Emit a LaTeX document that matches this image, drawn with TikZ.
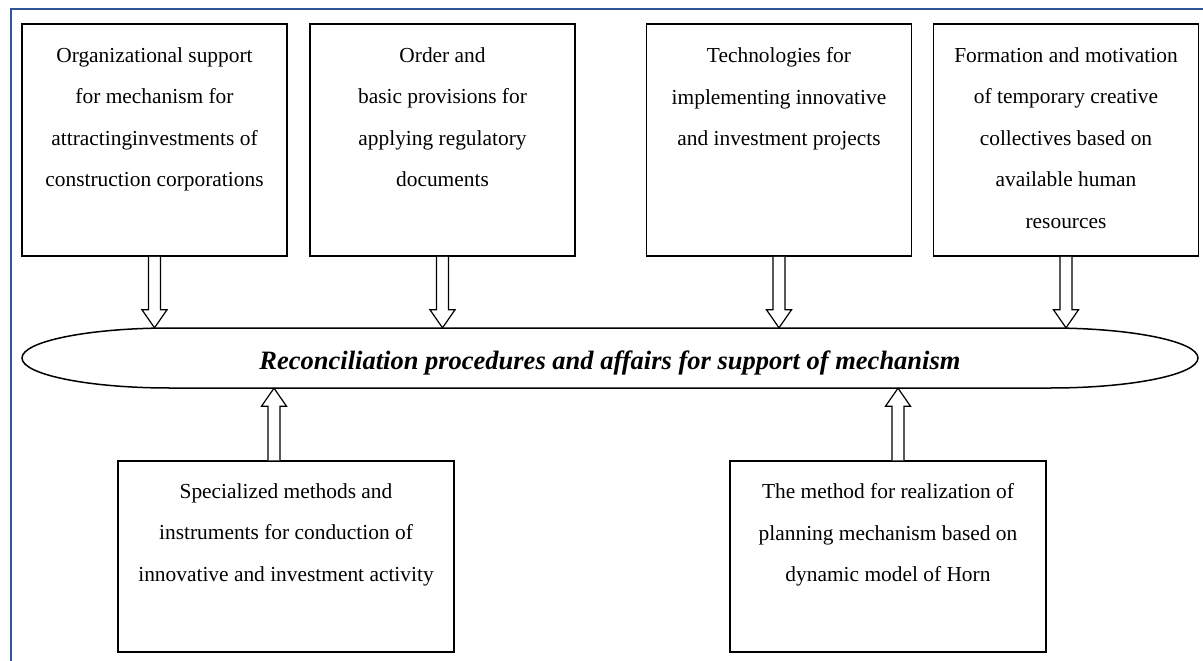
\documentclass[tikz,border=0pt]{standalone}
\usepackage{fontspec}
\setmainfont{Liberation Serif}
\usetikzlibrary{calc}
\definecolor{frameblue}{RGB}{47,85,151}
\newcommand\blkdown[2]{%
  \draw[blockarr] let \p1=(#1), \p2=(#2) in
    (\x1-6pt,\y1) -- (\x1-6pt,\y2+18pt) -- (\x1-12.5pt,\y2+18pt) -- (\x1,\y2)
    -- (\x1+12.5pt,\y2+18pt) -- (\x1+6pt,\y2+18pt) -- (\x1+6pt,\y1);}
\newcommand\blkup[2]{%
  \draw[blockarr] let \p1=(#1), \p2=(#2) in
    (\x1-6pt,\y1) -- (\x1-6pt,\y2-18pt) -- (\x1-12.5pt,\y2-18pt) -- (\x1,\y2)
    -- (\x1+12.5pt,\y2-18pt) -- (\x1+6pt,\y2-18pt) -- (\x1+6pt,\y1);}
\begin{document}
\begin{tikzpicture}[x=1pt,y=-1pt,
  box/.style={draw, line width=1.5pt, minimum width=265pt, minimum height=232pt, inner sep=0},
  txt/.style={font=\fontsize{21.4}{41.5}\selectfont, align=center, anchor=north, inner sep=0,
              execute at begin node=\rule{0pt}{16pt}},
  blockarr/.style={draw, line width=1.2pt, fill=white, line join=miter}]
\useasboundingbox (0,0) rectangle (1203,661);
\begin{scope}
  \clip (0,0) rectangle (1203,661);
  \draw[frameblue, line width=2pt] (11,9) rectangle (1240,700);
\end{scope}

% top boxes
\node[box] (b1) at (154.5,140) {};
\node[box] (b2) at (442.5,140) {};
\node[box] (b3) at (779,140) {};
\node[box] (b4) at (1066,140) {};
\node[txt] (t1) at ($(b1.north)+(0,24)$) {Organizational support\\for mechanism for\\attractinginvestments of\\construction corporations};
\node[txt] (t2) at ($(b2.north)+(0,24)$) {Order and\\basic provisions for\\applying regulatory\\documents};
\node[txt] (t3) at ($(b3.north)+(0,24)$) {Technologies for\\implementing innovative\\and investment projects};
\node[txt] (t4) at ($(b4.north)+(0,24)$) {Formation and motivation\\of temporary creative\\collectives based on\\available human\\resources};

% bottom boxes
\node[box, minimum width=336pt, minimum height=191pt] (c1) at (286,556.5) {};
\node[box, minimum width=316pt, minimum height=191pt] (c2) at (888,556.5) {};
\node[txt] (t5) at ($(c1.north)+(0,23)$) {Specialized methods and\\instruments for conduction of\\innovative and investment activity};
\node[txt] (t6) at ($(c2.north)+(0,23)$) {The method for realization of\\planning mechanism based on\\dynamic model of Horn};

% central flattened ellipse
\node[minimum width=1176pt, minimum height=60pt, inner sep=0] (E) at (610,358) {};
\draw[line width=1.5pt] (170,328) -- (1050,328)
  .. controls (1131.7,328) and (1198,341.4) .. (1198,358)
  .. controls (1198,374.6) and (1131.7,388) .. (1050,388) -- (170,388)
  .. controls (88.3,388) and (22,374.6) .. (22,358)
  .. controls (22,341.4) and (88.3,328) .. cycle;
\node[font=\fontsize{26.5}{30}\selectfont\bfseries\itshape, anchor=base, inner sep=0] (et) at (610,369)
  {Reconciliation procedures and affairs for support of mechanism};

% arrows
\blkdown{b1.south}{b1.south |- E.north}
\blkdown{b2.south}{b2.south |- E.north}
\blkdown{b3.south}{b3.south |- E.north}
\blkdown{b4.south}{b4.south |- E.north}
\coordinate (u1) at ($(c1.north)+(-12,0)$);
\coordinate (u2) at ($(c2.north)+(10,0)$);
\blkup{u1}{u1 |- E.south}
\blkup{u2}{u2 |- E.south}
\end{tikzpicture}
\end{document}
